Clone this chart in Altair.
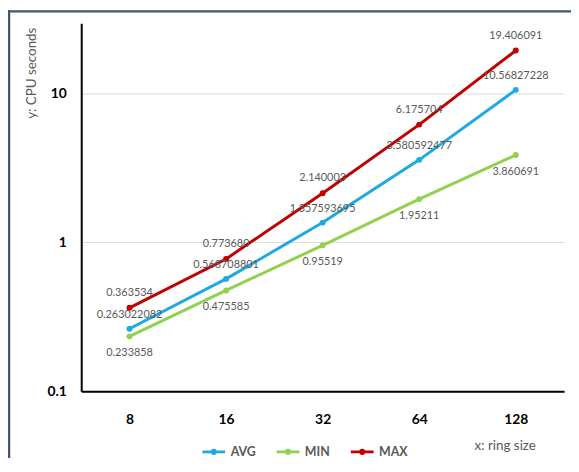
import altair as alt
import pandas as pd

RING_SIZES = ["8", "16", "32", "64", "128"]
SERIES = ["AVG", "MIN", "MAX"]
AVG = ["0.263022082", "0.568708801", "1.357593695", "3.580592477", "10.56827228"]
MIN = ["0.233858", "0.475585", "0.95519", "1.95211", "3.860691"]
MAX = ["0.363534", "0.773680", "2.140003", "6.175704", "19.406091"]
COLORS = ["#1fa9e1", "#92d050", "#c00000"]
Y_TICKS = [0.1, 1, 10]

rows = []
for name, vals in zip(SERIES, [AVG, MIN, MAX]):
    for x, v in zip(RING_SIZES, vals):
        rows.append({"size": x, "series": name, "value": float(v), "label": v})
df = pd.DataFrame(rows)

FONT = "Lato"
GRAY = "#595959"

x_enc = alt.X(
    "size:N",
    sort=RING_SIZES,
    scale=alt.Scale(type="point", padding=0.5),
    axis=alt.Axis(
        title="x: ring size", labelAngle=0, labelPadding=22, grid=False,
        titleX=428, titleY=55, titleAlign="center", titleBaseline="middle",
        titleFont=FONT, titleFontSize=13.5, titleFontWeight="normal", titleColor=GRAY,
    ),
)
y_enc = alt.Y(
    "value:Q",
    scale=alt.Scale(type="log", domain=[0.1, 29.6], nice=False),
    axis=alt.Axis(
        title="y: CPU seconds", values=Y_TICKS, format="~g", grid=True,
        gridColor="#d9d9d9", gridWidth=1, labelPadding=15,
        titleX=-50, titleY=50, titleAngle=270, titleAlign="center", titleBaseline="middle",
        titleFont=FONT, titleFontSize=13.5, titleFontWeight="normal", titleColor=GRAY,
    ),
)

legend_symbol = "M-1,0H1M0,-0.14A0.14,0.14,0,1,1,0,0.14A0.14,0.14,0,1,1,0,-0.14"

lines = alt.Chart(df).mark_line(
    strokeWidth=3, point=alt.OverlayMarkDef(filled=True, size=36)
).encode(
    x=x_enc,
    y=y_enc,
    color=alt.Color(
        "series:N",
        sort=SERIES,
        scale=alt.Scale(domain=SERIES, range=COLORS),
        legend=alt.Legend(
            title=None, orient="none", direction="horizontal",
            legendX=121, legendY=420, padding=0,
            symbolType=legend_symbol, symbolSize=529, symbolStrokeWidth=3,
            labelFont=FONT, labelFontSize=12.5, labelFontWeight="bold", labelColor=GRAY,
            labelOffset=4, columnPadding=14, labelBaseline="middle",
        ),
    ),
)

def labels(series, dy):
    return alt.Chart(df).transform_filter(
        alt.datum.series == series
    ).mark_text(
        font=FONT, fontSize=11, color=GRAY, dy=dy
    ).encode(x=x_enc, y=y_enc, text="label:N")

frame_df = pd.DataFrame({"k": [0]})
left_border = alt.Chart(frame_df).mark_rule(color="#44546a", strokeWidth=2.5).encode(
    x=alt.value(-73), y=alt.value(-13), y2=alt.value(470)
)
top_border = alt.Chart(frame_df).mark_rule(color="#44546a", strokeWidth=2.5).encode(
    x=alt.value(-74), x2=alt.value(500), y=alt.value(-12)
)

chart = alt.layer(
    lines,
    labels("MAX", -15),
    labels("AVG", -14),
    labels("MIN", 17),
    left_border,
    top_border,
).properties(
    width=488,
    height=372,
    autosize=alt.AutoSizeParams(type="none"),
    padding={"left": 74, "top": 13, "right": 7, "bottom": 65},
    background="white",
).configure_view(
    stroke=None
).configure_axis(
    domainColor="black", domainWidth=2, ticks=False,
    labelFont=FONT, labelFontSize=14, labelFontWeight="bold", labelColor="black",
)

chart.save("out.html", embed_options={"renderer": "svg", "actions": False})
